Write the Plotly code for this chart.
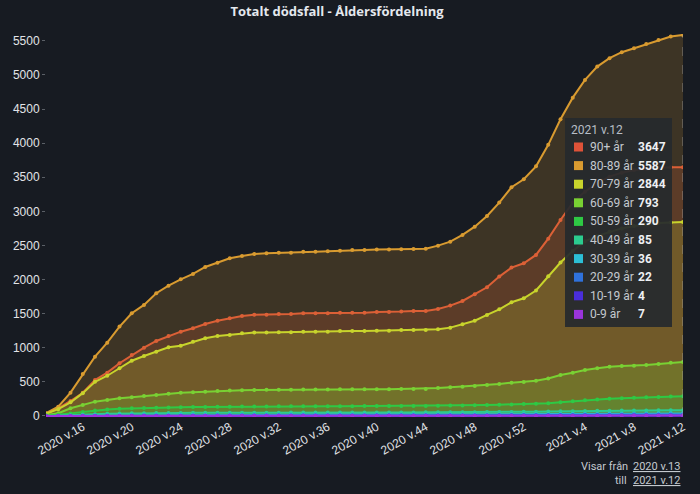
import plotly.graph_objects as go

# ---- data ----
weeks = [f"2020 v.{w}" for w in range(13, 54)] + [f"2021 v.{w}" for w in range(1, 13)]
tick_labels = [w for w in weeks if int(w.split(".")[1]) % 4 == 0]

groups = ["90+ år", "80-89 år", "70-79 år", "60-69 år", "50-59 år",
          "40-49 år", "30-39 år", "20-29 år", "10-19 år", "0-9 år"]

age_90 = [35, 110, 220, 340, 528, 635, 773, 894, 1002, 1100, 1173, 1236, 1286, 1349, 1397,
          1432, 1466, 1485, 1485, 1496, 1496, 1506, 1506, 1506, 1515, 1515, 1515, 1525, 1525,
          1530, 1540, 1540, 1569, 1618, 1686, 1784, 1887, 2043, 2175, 2239, 2361, 2600, 2874,
          3128, 3289, 3412, 3509, 3567, 3607, 3626, 3641, 3646, 3647]
age_80 = [40, 136, 342, 616, 870, 1075, 1310, 1506, 1628, 1799, 1911, 2004, 2082, 2185, 2248,
          2312, 2346, 2375, 2386, 2394, 2394, 2409, 2409, 2415, 2424, 2434, 2434, 2440, 2440,
          2444, 2449, 2452, 2497, 2556, 2654, 2776, 2933, 3128, 3353, 3470, 3660, 3975, 4350,
          4667, 4927, 5122, 5245, 5333, 5390, 5455, 5513, 5562, 5587]
age_70 = [30, 100, 200, 335, 500, 590, 700, 810, 880, 943, 1007, 1031, 1090, 1139, 1173,
          1188, 1212, 1222, 1222, 1227, 1227, 1236, 1236, 1236, 1246, 1246, 1246, 1251, 1251,
          1261, 1261, 1261, 1271, 1295, 1344, 1397, 1481, 1564, 1667, 1726, 1840, 2050, 2250,
          2420, 2560, 2640, 2700, 2750, 2785, 2810, 2828, 2838, 2844]
age_60 = [15, 40, 113, 161, 210, 235, 260, 274, 293, 308, 327, 342, 347, 356, 367,
          372, 378, 381, 383, 385, 386, 387, 388, 389, 390, 391, 391, 391, 391,
          396, 396, 396, 410, 420, 430, 440, 455, 469, 488, 499, 518, 550, 601,
          635, 674, 699, 723, 733, 738, 748, 762, 782, 793]
age_50 = [3, 15, 35, 60, 80, 95, 105, 112, 118, 122, 126, 129, 131, 133, 135,
          137, 138, 139, 140, 141, 141, 142, 142, 143, 143, 144, 145, 145, 146,
          146, 147, 148, 150, 152, 155, 158, 162, 166, 170, 174, 180, 188, 200,
          215, 230, 242, 252, 260, 267, 274, 280, 286, 290]
age_40 = [1, 5, 12, 20, 27, 32, 36, 39, 41, 43, 44, 45, 46, 47, 47, 48, 48, 49, 49, 49,
          50, 50, 50, 50, 51, 51, 51, 51, 52, 52, 52, 53, 53, 54, 55, 56, 57, 58, 60, 61,
          63, 65, 68, 71, 74, 76, 78, 80, 81, 82, 83, 84, 85]
age_30 = [0, 1, 3, 6, 9, 11, 13, 14, 15, 16, 17, 17, 18, 18, 18, 19, 19, 19, 19, 19,
          20, 20, 20, 20, 20, 20, 20, 20, 20, 21, 21, 21, 21, 22, 22, 22, 23, 23, 24, 24,
          25, 26, 27, 28, 29, 30, 31, 32, 33, 34, 35, 35, 36]
age_20 = [0, 0, 1, 2, 3, 4, 5, 6, 7, 7, 8, 8, 8, 8, 9, 9, 9, 9, 9, 9,
          9, 9, 10, 10, 10, 10, 10, 10, 10, 10, 11, 11, 11, 11, 12, 12, 12, 13, 13, 14,
          14, 15, 15, 16, 17, 18, 19, 19, 20, 21, 21, 22, 22]
age_10 = [0, 0, 0, 0, 0, 0, 1, 1, 1, 1, 1, 1, 1, 1, 1, 1, 1, 1, 1, 1,
          1, 1, 1, 1, 1, 1, 1, 2, 2, 2, 2, 2, 2, 2, 2, 2, 2, 2, 2, 3,
          3, 3, 3, 3, 3, 3, 3, 3, 3, 3, 4, 4, 4]
age_0 = [0, 0, 0, 0, 1, 1, 1, 1, 1, 1, 1, 1, 1, 2, 2, 2, 2, 2, 2, 2,
         2, 2, 2, 2, 2, 2, 2, 2, 2, 2, 3, 3, 3, 3, 3, 3, 3, 4, 4, 4,
         4, 4, 5, 5, 5, 5, 5, 6, 6, 6, 7, 7, 7]

series = [age_90, age_80, age_70, age_60, age_50, age_40, age_30, age_20, age_10, age_0]
colors = ["#de5238", "#d99b30", "#c8d42c", "#79d133", "#2ec944",
          "#2bcc8f", "#2cbfd6", "#2f72dc", "#4a2edc", "#9a34dc"]


def rgba(hexc, a):
    h = hexc.lstrip("#")
    r, g, b = int(h[0:2], 16), int(h[2:4], 16), int(h[4:6], 16)
    return f"rgba({r},{g},{b},{a})"


BG = "#171b22"
W, H = 700, 494
L, R, T, B = 46, 17, 34, 77
UI_FONT = "Roboto"

fig = go.Figure()
for name, vals, col in zip(groups, series, colors):
    fig.add_trace(go.Scatter(
        x=weeks, y=vals, name=name, mode="lines+markers",
        line=dict(color=col, width=2),
        marker=dict(color=col, size=4),
        fill="tozeroy", fillcolor=rgba(col, 0.2),
        showlegend=False, hoverinfo="skip",
    ))

# pixel helpers for paper coords
pw, ph = W - L - R, H - T - B


def px(x):
    return (x - L) / pw


def py(y):
    return (H - B - y) / ph


shapes = []
annotations = []

# spike line at last week
shapes.append(dict(type="line", xref="x", yref="y", x0=weeks[-1], x1=weeks[-1],
                   y0=0, y1=max(s[-1] for s in series),
                   line=dict(color="rgba(170,170,170,0.7)", width=1, dash="dash"),
                   layer="above"))

# hover-like box
shapes.append(dict(type="rect", xref="paper", yref="paper",
                   x0=px(565), x1=px(672), y0=py(327), y1=py(118),
                   fillcolor="rgba(38,42,45,0.93)", line=dict(width=0), layer="above"))
annotations.append(dict(xref="paper", yref="paper", x=px(569), y=py(130),
                        text=weeks[-1], showarrow=False, xanchor="left", yanchor="middle",
                        font=dict(family=UI_FONT, size=12, color="#b8bec6")))
row0, step = 147, 18.6
for i, (name, vals, col) in enumerate(zip(groups, series, colors)):
    yc = row0 + i * step
    shapes.append(dict(type="rect", xref="paper", yref="paper",
                       x0=px(574), x1=px(583), y0=py(yc + 4.5), y1=py(yc - 4.5),
                       fillcolor=col, line=dict(width=0), layer="above"))
    annotations.append(dict(xref="paper", yref="paper", x=px(588), y=py(yc),
                            text=name, showarrow=False, xanchor="left", yanchor="middle",
                            font=dict(family=UI_FONT, size=12, color="#c4c9cf")))
    annotations.append(dict(xref="paper", yref="paper", x=px(636), y=py(yc),
                            text=f"<b>{vals[-1]}</b>", showarrow=False, xanchor="left",
                            yanchor="middle",
                            font=dict(family=UI_FONT, size=12, color="#eef0f3")))

# bottom-right range text
for lbl, lx, val, yv in [("Visar från", 579, weeks[0], 466), ("till", 613, weeks[-1], 480)]:
    annotations.append(dict(xref="paper", yref="paper", x=px(lx), y=py(yv),
                            text=lbl, showarrow=False, xanchor="left", yanchor="middle",
                            font=dict(family=UI_FONT, size=11, color="#c4c9cf")))
    annotations.append(dict(xref="paper", yref="paper", x=px(631), y=py(yv),
                            text=f"<u>{val}</u>", showarrow=False, xanchor="left",
                            yanchor="middle",
                            font=dict(family=UI_FONT, size=11, color="#c4c9cf")))

fig.update_layout(
    width=W, height=H,
    margin=dict(l=L, r=R, t=T, b=B),
    paper_bgcolor=BG, plot_bgcolor=BG,
    title=dict(text="<b>Totalt dödsfall - Åldersfördelning</b>",
               x=337 / W, xanchor="center", y=1 - 11 / H, yanchor="middle",
               font=dict(family="Open Sans", size=13, color="#e4e8ee")),
    xaxis=dict(type="category", range=[0, len(weeks) - 1], tickmode="array",
               tickvals=tick_labels, ticktext=tick_labels, tickangle=-30,
               showgrid=False, zeroline=False, showline=False,
               ticks="", tickfont=dict(family="Liberation Sans", size=12, color="#e2e4e8")),
    yaxis=dict(range=[-15, 5600], tickmode="linear", tick0=0, dtick=500,
               showgrid=False, zeroline=False, showline=False,
               ticks="outside", ticklen=3, tickcolor="#5a5f66",
               tickfont=dict(family="Liberation Sans", size=12, color="#e2e4e8")),
    shapes=shapes, annotations=annotations,
    hovermode=False,
)

fig.write_html("out.html")
